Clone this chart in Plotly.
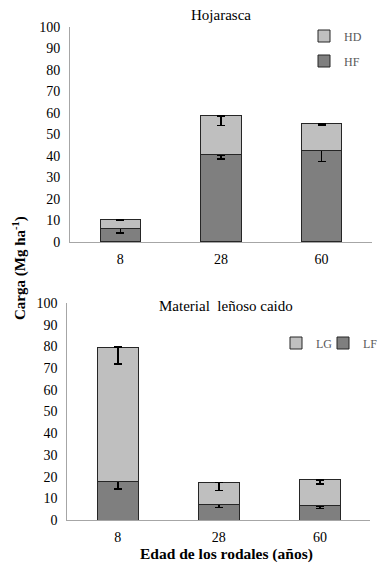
import plotly.graph_objects as go

ages = ["8", "28", "60"]
# Hojarasca
hf = [6.2, 40.5, 42.5]
hd = [4.3, 18.2, 12.4]
hf_err = [2.0, 2.0, 5.0]
hd_err = [0.6, 4.6, 0.8]
# Material leñoso caido
lf = [17.7, 7.2, 6.5]
lg = [62.0, 10.2, 12.0]
lf_err = [3.4, 1.5, 1.1]
lg_err = [7.8, 3.8, 1.8]

dark = "#7f7f7f"
light = "#bfbfbf"
outline = "#262626"
font_family = "Liberation Serif"

fig = go.Figure()

def add_bar(name, y, err, color, xa, ya, legend):
    fig.add_trace(go.Bar(
        x=ages, y=y, name=name, xaxis=xa, yaxis=ya, legend=legend, showlegend=True,
        marker=dict(color=color, line=dict(color=outline, width=1)),
        width=0.4,
        error_y=dict(type="data", symmetric=False, array=[0]*len(err), arrayminus=err,
                     color="black", thickness=1.5, width=4),
    ))

add_bar("HF", hf, hf_err, dark, "x", "y", "legend2")
add_bar("HD", hd, hd_err, light, "x", "y", "legend")
add_bar("LF", lf, lf_err, dark, "x2", "y2", "legend4")
add_bar("LG", lg, lg_err, light, "x2", "y2", "legend3")

axis_common = dict(showgrid=False, zeroline=False, showline=True, linecolor="#a6a6a6",
                   linewidth=1, ticks="", automargin=False,
                   tickfont=dict(family=font_family, size=14, color="black"))

leg_font = dict(family=font_family, size=12, color="#595959")

def leg(xpx, ypx):
    return dict(x=xpx/378, y=1-ypx/565, xanchor="left", yanchor="middle", orientation="v",
                font=leg_font, bgcolor="rgba(0,0,0,0)", itemwidth=30, visible=True)

fig.update_layout(
    width=378, height=565,
    showlegend=True,
    margin=dict(l=0, r=0, t=0, b=0, autoexpand=False),
    paper_bgcolor="white", plot_bgcolor="white",
    barmode="stack",
    font=dict(family=font_family, color="black"),
    xaxis=dict(domain=[0.185, 0.984], anchor="y", ticklabelstandoff=4, **axis_common),
    yaxis=dict(domain=[0.5717, 0.9522], anchor="x", range=[0, 100], dtick=10,
               ticklabelstandoff=6, **axis_common),
    xaxis2=dict(domain=[0.178, 0.98], anchor="y2", ticklabelstandoff=4, **axis_common),
    yaxis2=dict(domain=[0.0796, 0.4637], anchor="x2", range=[0, 100], dtick=10,
                ticklabelstandoff=6, **axis_common),
    legend=leg(304, 36),
    legend2=leg(304, 61),
    legend3=leg(276, 343),
    legend4=leg(323, 343),
    annotations=[
        dict(text="Hojarasca", x=221/378, y=1-15/565, xref="paper", yref="paper",
             xanchor="center", yanchor="middle",
             showarrow=False, font=dict(family=font_family, size=15)),
        dict(text="Material  leñoso caido", x=226/378, y=1-306/565, xref="paper", yref="paper",
             xanchor="center", yanchor="middle",
             showarrow=False, font=dict(family=font_family, size=15)),
        dict(text="<b>Carga (Mg ha<sup>-1</sup>)</b>", x=20/378, y=1-268/565, xref="paper", yref="paper",
             xanchor="center", yanchor="middle",
             showarrow=False, textangle=-90, font=dict(family=font_family, size=15)),
        dict(text="<b>Edad de los rodales (años)</b>", x=226/378, y=1-554/565, xref="paper", yref="paper",
             xanchor="center", yanchor="middle",
             showarrow=False, font=dict(family=font_family, size=15.5)),
    ],
)

fig.write_html("out.html", config={"displayModeBar": False},
               post_script="document.body.style.margin='0';")
